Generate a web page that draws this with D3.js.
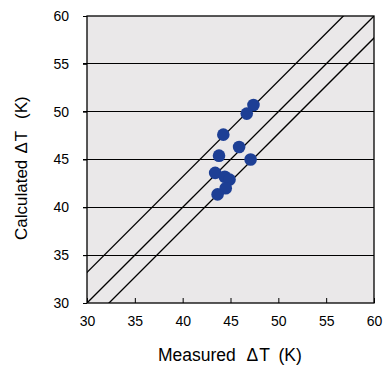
<!DOCTYPE html>
<html><head><meta charset="utf-8">
<script src="https://cdn.jsdelivr.net/npm/d3@7"></script>
<style>body{margin:0;background:#fff;}svg{display:block;font-family:"Liberation Sans",Arial,sans-serif;}</style>
</head><body>
<svg id="c" width="384" height="365"></svg>
<script>
const measured   = [47.4, 46.7, 44.25, 45.9, 43.8, 47.1, 43.4, 44.4, 44.9, 44.5, 43.65];
const calculated = [50.7, 49.8, 47.6, 46.3, 45.4, 45.0, 43.6, 43.2, 42.9, 42.0, 41.35];
const ticks = [30, 35, 40, 45, 50, 55, 60];
const lineOffsets = [3.2, 0, -2.3];

const svg = d3.select("#c");
const L = 87, R = 374, T = 16, B = 303;
const x = d3.scaleLinear().domain([30, 60]).range([L, R]);
const y = d3.scaleLinear().domain([30, 60]).range([B, T]);

svg.append("rect").attr("x", L).attr("y", T).attr("width", R - L).attr("height", B - T).attr("fill", "#eae8e9");

// gridlines
svg.append("g").selectAll("line").data(ticks.slice(1, -1)).join("line")
  .attr("x1", L - 4).attr("x2", R).attr("y1", d => y(d)).attr("y2", d => y(d))
  .attr("stroke", "#000").attr("stroke-width", 1).attr("shape-rendering", "crispEdges");

// diagonal lines clipped
svg.append("clipPath").attr("id", "clip").append("rect").attr("x", L).attr("y", T).attr("width", R - L).attr("height", B - T);
const gl = svg.append("g").attr("clip-path", "url(#clip)");
gl.selectAll("line").data(lineOffsets).join("line")
  .attr("x1", x(20)).attr("y1", d => y(20 + d))
  .attr("x2", x(70)).attr("y2", d => y(70 + d))
  .attr("stroke", "#000").attr("stroke-width", 1.3);

// points
svg.append("g").selectAll("circle").data(measured.map((m, i) => [m, calculated[i]])).join("circle")
  .attr("cx", d => x(d[0])).attr("cy", d => y(d[1])).attr("r", 6.3)
  .attr("fill", "#1d3f95");

// frame
svg.append("rect").attr("x", L).attr("y", T).attr("width", R - L).attr("height", B - T)
  .attr("fill", "none").attr("stroke", "#000").attr("stroke-width", 1.3);

// x axis
const xa = svg.append("g").attr("transform", `translate(0,${B})`)
  .call(d3.axisBottom(x).tickValues(ticks).tickSize(-5).tickPadding(13));
xa.select(".domain").remove();
xa.selectAll("line").attr("stroke", "#000");
xa.selectAll("text").attr("font-size", 14).attr("fill", "#000").attr("font-family", "Liberation Sans, Arial, sans-serif");

// y axis
const ya = svg.append("g").attr("transform", `translate(${L},0)`)
  .call(d3.axisLeft(y).tickValues(ticks).tickSize(4).tickPadding(14));
ya.select(".domain").remove();
ya.selectAll("line").attr("stroke", "#000");
ya.selectAll("text").attr("font-size", 14).attr("fill", "#000").attr("font-family", "Liberation Sans, Arial, sans-serif");

const xl = svg.append("text").attr("y", 361).attr("font-size", 17.5);
xl.append("tspan").attr("x", 158).text("Measured");
xl.append("tspan").attr("x", 246.5).attr("letter-spacing", 1).text("ΔT");
xl.append("tspan").attr("x", 278.5).text("(K)");

const yl = svg.append("text").attr("transform", `translate(26.5,0) rotate(-90)`).attr("font-size", 17);
yl.append("tspan").attr("x", -240).text("Calculated");
yl.append("tspan").attr("x", -153.5).attr("letter-spacing", 1).text("ΔT");
yl.append("tspan").attr("x", -119).text("(K)");
</script>
</body></html>
